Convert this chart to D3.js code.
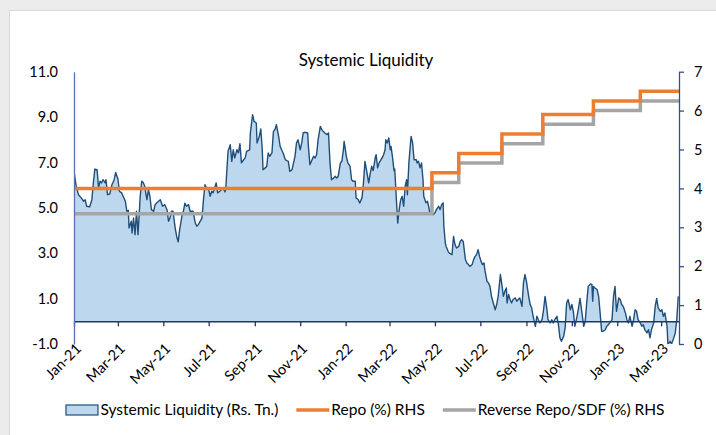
<!DOCTYPE html>
<html><head><meta charset="utf-8">
<script src="https://cdn.jsdelivr.net/npm/d3@7"></script>
<style>
body{margin:0;background:#fff}
svg{display:block}
text{font-family:Lato,"Open Sans",sans-serif;fill:#000;font-weight:400}
</style>
</head><body>
<svg id="chart" width="716" height="435"></svg>
<script>
// ---------- DATA ----------
const startDate = "2021-01-01";
const endDayOffset = 813;
// Systemic liquidity (Rs. Tn.) : [days since 1 Jan 2021, value]
const liquidity = [[0,6.61],[3,5.95],[6,5.58],[10,5.43],[13,5.29],[15,5.36],[17,5.07],[21,5.04],[24,5.36],[26,6.10],[28,6.71],[31,6.68],[33,5.88],[35,6.17],[37,6.10],[39,6.24],[42,6.10],[43,6.24],[45,5.58],[48,5.61],[51,6.02],[54,6.24],[56,6.56],[59,6.27],[61,5.73],[64,5.66],[66,5.51],[69,5.29],[71,4.85],[73,4.89],[74,4.11],[77,4.41],[78,3.89],[80,4.55],[82,3.82],[84,4.85],[86,3.82],[89,5.51],[91,6.17],[93,6.12],[95,5.95],[98,5.36],[100,5.80],[102,5.51],[104,4.92],[107,4.85],[109,5.14],[111,5.21],[116,5.36],[119,5.07],[122,5.14],[125,4.92],[127,4.41],[129,4.55],[131,4.85],[133,4.85],[136,4.11],[138,3.74],[140,3.50],[142,4.04],[145,4.63],[147,4.85],[149,5.21],[151,5.07],[154,5.14],[156,4.85],[160,4.85],[163,4.33],[165,4.19],[167,4.26],[172,4.55],[174,5.36],[176,6.02],[178,5.88],[181,5.80],[183,5.51],[185,5.73],[187,5.66],[191,6.10],[193,5.66],[196,5.73],[200,5.88],[203,5.70],[204,5.90],[207,7.49],[210,7.78],[212,7.05],[214,7.56],[216,7.20],[219,7.56],[221,7.42],[223,7.83],[225,6.98],[228,7.12],[230,7.20],[232,7.49],[236,7.56],[237,8.30],[240,9.11],[242,8.81],[245,8.74],[246,7.86],[249,8.15],[251,8.48],[253,7.56],[254,6.68],[257,6.76],[259,6.83],[261,7.42],[263,7.27],[266,7.42],[268,8.37],[270,8.44],[272,8.67],[275,8.15],[277,7.71],[279,7.56],[281,7.42],[284,7.12],[286,7.08],[288,7.05],[290,6.61],[293,6.68],[295,6.98],[297,7.27],[299,7.86],[301,8.00],[304,7.56],[306,7.86],[308,8.30],[310,8.33],[314,8.30],[315,7.71],[317,6.90],[319,7.05],[322,7.27],[324,7.20],[326,7.34],[328,8.00],[331,8.59],[333,8.44],[335,8.37],[337,8.30],[340,8.23],[342,8.30],[344,6.98],[346,6.24],[349,6.31],[351,6.39],[353,6.31],[355,6.39],[358,6.98],[360,7.05],[362,7.56],[363,7.93],[366,7.27],[368,6.98],[371,6.83],[373,6.24],[375,6.17],[378,6.17],[379,5.44],[382,5.36],[384,5.21],[387,5.44],[389,6.10],[391,7.05],[393,6.68],[396,6.10],[398,6.50],[400,6.83],[402,6.64],[405,7.24],[406,7.34],[408,6.76],[410,6.98],[414,7.20],[416,7.34],[418,7.56],[419,8.00],[421,7.86],[423,8.08],[425,7.56],[426,7.71],[428,7.24],[430,6.64],[431,6.71],[434,4.92],[435,4.33],[437,4.92],[439,5.36],[441,5.51],[443,5.07],[444,5.51],[445,5.95],[447,6.24],[448,5.58],[450,6.98],[452,7.78],[453,8.15],[455,7.86],[457,7.12],[460,7.12],[461,6.98],[463,7.05],[465,6.76],[467,6.98],[469,6.24],[470,5.51],[473,5.22],[475,5.29],[477,5.00],[478,4.78],[481,4.85],[483,4.70],[485,4.78],[487,4.92],[490,5.07],[492,4.92],[494,5.14],[496,5.22],[497,4.19],[499,3.45],[500,3.30],[501,3.23],[503,3.06],[505,2.99],[508,2.94],[510,3.74],[512,3.38],[514,3.23],[517,3.30],[519,3.52],[521,3.60],[523,3.52],[526,2.72],[528,2.57],[530,2.50],[532,2.42],[535,2.50],[537,2.72],[539,2.86],[541,2.94],[543,3.16],[545,2.86],[547,2.64],[549,2.50],[551,2.57],[552,2.28],[555,1.76],[557,1.69],[559,1.54],[561,1.10],[564,0.74],[566,0.51],[568,0.74],[570,1.10],[573,2.06],[575,1.62],[577,1.10],[579,1.32],[581,1.47],[582,0.81],[584,1.18],[586,0.96],[588,0.81],[590,0.96],[593,1.03],[595,0.88],[597,0.96],[599,1.03],[602,0.66],[604,1.69],[606,2.06],[608,1.76],[611,1.10],[613,0.74],[615,0.59],[617,0.22],[620,-0.22],[622,0.22],[624,0.07],[626,-0.07],[629,0.07],[631,0.51],[633,1.10],[635,0.66],[637,0.07],[640,-0.07],[642,0.07],[644,-0.07],[646,0.07],[649,0.22],[651,-0.15],[653,-0.73],[655,-0.88],[658,-0.66],[660,-0.29],[662,0.81],[664,0.96],[667,0.51],[669,0.74],[671,0.44],[673,-0.22],[676,0.22],[678,0.59],[680,1.01],[682,0.51],[685,-0.22],[687,0.00],[689,0.81],[691,1.54],[694,1.65],[696,1.62],[697,0.88],[698,1.54],[700,1.47],[703,1.40],[705,1.10],[707,0.37],[709,-0.44],[711,-0.44],[714,-0.37],[716,-0.22],[718,-0.15],[720,-0.07],[723,0.07],[725,1.10],[727,1.54],[729,0.44],[732,1.03],[734,0.96],[736,0.74],[738,0.66],[741,0.37],[743,0.07],[745,-0.07],[747,0.22],[750,-0.22],[752,0.07],[754,0.51],[756,0.44],[758,0.07],[761,-0.07],[763,-0.22],[765,-0.15],[767,-0.37],[770,-0.51],[772,-0.37],[774,-0.73],[776,-0.37],[779,-0.07],[781,0.66],[783,1.01],[785,0.59],[788,0.44],[790,0.51],[792,0.22],[794,0.37],[797,-0.22],[798,-0.98],[800,-0.95],[801,-0.88],[803,-1.00],[806,-0.73],[808,-0.51],[810,0.07],[812,1.10]];

// Policy rates (%), step changes
const rateChangeDates = ["2021-01-01","2022-04-27","2022-06-02","2022-07-30","2022-09-23","2022-11-30","2023-02-01","2023-03-25"];
const repoRate        = [4.00, 4.40, 4.90, 5.40, 5.90, 6.25, 6.50, 6.50];
const reverseRepoRate = [3.35, 4.15, 4.65, 5.15, 5.65, 6.00, 6.25, 6.25];

const xTickLabels = ["Jan-21","Mar-21","May-21","Jul-21","Sep-21","Nov-21","Jan-22","Mar-22","May-22","Jul-22","Sep-22","Nov-22","Jan-23","Mar-23"];
const leftTicks  = [-1, 1, 3, 5, 7, 9, 11];
const rightTicks = [0, 1, 2, 3, 4, 5, 6, 7];

const titleText = "Systemic Liquidity";
const legendLabels = ["Systemic Liquidity (Rs. Tn.)", "Repo (%) RHS", "Reverse Repo/SDF (%) RHS"];

// ---------- CHART ----------
const svg = d3.select("#chart");
const W = 716, H = 435;
const plot = {left: 74, right: 679, top: 71.7, bottom: 344};

// frame
svg.append("rect").attr("width", W).attr("height", H).attr("fill", "#ececec");
svg.append("rect").attr("x", 9.5).attr("y", 10.5).attr("width", W).attr("height", H)
  .attr("fill", "#fff").attr("stroke", "#d9d9d9");

const parseISO = d3.timeParse("%Y-%m-%d");
const t0 = parseISO(startDate);
const x = d3.scaleTime().domain([t0, d3.timeDay.offset(t0, endDayOffset)]).range([plot.left, plot.right]);
const yL = d3.scaleLinear().domain([-1, 11]).range([plot.bottom, plot.top]);
const yR = d3.scaleLinear().domain([0, 7]).range([plot.bottom, plot.top]);

const liq = liquidity.map(([d, v]) => ({date: d3.timeDay.offset(t0, d), v}));
const rates = rateChangeDates.map((d, i) => ({date: parseISO(d), repo: repoRate[i], rr: reverseRepoRate[i]}));

svg.append("clipPath").attr("id", "clip").append("rect")
  .attr("x", plot.left).attr("y", plot.top - 5).attr("width", plot.right - plot.left).attr("height", plot.bottom - plot.top + 5);

const g = svg.append("g").attr("clip-path", "url(#clip)");

g.append("path").datum(liq)
  .attr("fill", "#BDD7EE")
  .attr("d", d3.area().x(d => x(d.date)).y0(yL(0)).y1(d => yL(d.v)));
g.append("path").datum(liq)
  .attr("fill", "none").attr("stroke", "#1F4E79").attr("stroke-width", 1.4).attr("stroke-linejoin", "round")
  .attr("d", d3.line().x(d => x(d.date)).y(d => yL(d.v)));

// x axis line at zero with ticks
const xTickDates = xTickLabels.map(s => d3.timeParse("%b-%y")(s));
svg.append("g").attr("transform", `translate(0,${yL(0)})`)
  .call(d3.axisBottom(x).tickValues(xTickDates).tickSize(5).tickSizeOuter(0).tickFormat(""))
  .call(s => s.select(".domain").attr("stroke", "#1F3864").attr("stroke-width", 1.5))
  .call(s => s.selectAll(".tick line").attr("stroke", "#1F3864").attr("stroke-width", 1.3));

// rates
g.append("path").datum(rates)
  .attr("fill", "none").attr("stroke", "#A5A5A5").attr("stroke-width", 3.5)
  .attr("d", d3.line().curve(d3.curveStepAfter).x(d => x(d.date)).y(d => yR(d.rr)));
g.append("path").datum(rates)
  .attr("fill", "none").attr("stroke", "#ED7D31").attr("stroke-width", 3.5)
  .attr("d", d3.line().curve(d3.curveStepAfter).x(d => x(d.date)).y(d => yR(d.repo)));

// x labels
const xl = svg.append("g").attr("transform", `translate(0,${plot.bottom})`)
  .call(d3.axisBottom(x).tickValues(xTickDates).tickSize(0).tickFormat((d, i) => xTickLabels[i]));
xl.select(".domain").remove();
xl.selectAll("text")
  .attr("font-size", 14.5).attr("text-anchor", "end")
  .attr("transform", "translate(4,2) rotate(-45)")
  .attr("dy", "0.35em").attr("y", 0).attr("x", 0);

// left axis
const la = svg.append("g").attr("transform", `translate(${plot.left},0)`)
  .call(d3.axisLeft(yL).tickValues(leftTicks).tickSize(0).tickPadding(16).tickFormat(d => d.toFixed(1)));
la.select(".domain").attr("stroke", "#5874A8").attr("stroke-width", 1.3);
la.selectAll("text").attr("font-size", 14.5);

// right axis
const ra = svg.append("g").attr("transform", `translate(${plot.right},0)`)
  .call(d3.axisRight(yR).tickValues(rightTicks).tickSize(5).tickSizeOuter(0).tickPadding(10).tickFormat(d3.format("d")));
ra.select(".domain").attr("stroke", "#2F4F8F").attr("stroke-width", 1.3);
ra.selectAll(".tick line").attr("stroke", "#2F4F8F").attr("stroke-width", 1.3);
ra.selectAll("text").attr("font-size", 14.5);
svg.selectAll(".tick text").attr("fill", "#000");

// title
svg.append("text").attr("x", 366).attr("y", 66).attr("text-anchor", "middle")
  .attr("font-size", 17).attr("font-weight", 400).text(titleText);

// legend
const leg = svg.append("g").attr("transform", "translate(0,410)");
const symW = 33, gap = 2, itemGap = 18;
let cx = 0;
const items = [];
legendLabels.forEach((lab, i) => {
  const it = leg.append("g");
  if (i === 0) {
    it.append("rect").attr("x", 0.5).attr("y", -5).attr("width", symW - 1).attr("height", 10)
      .attr("fill", "#BDD7EE").attr("stroke", "#1F4E79").attr("stroke-width", 1.2);
  } else {
    it.append("line").attr("x1", 0).attr("x2", symW).attr("y1", 0).attr("y2", 0)
      .attr("stroke", i === 1 ? "#ED7D31" : "#A5A5A5").attr("stroke-width", 3.5);
  }
  const t = it.append("text").attr("x", symW + gap).attr("y", 0).attr("dy", "0.35em")
    .attr("font-size", 15.5).text(lab);
  items.push({it, w: symW + gap + t.node().getComputedTextLength()});
});
const total = d3.sum(items, d => d.w) + itemGap * (items.length - 1);
cx = 365 - total / 2;
items.forEach(d => { d.it.attr("transform", `translate(${cx},0)`); cx += d.w + itemGap; });
</script>
</body></html>
